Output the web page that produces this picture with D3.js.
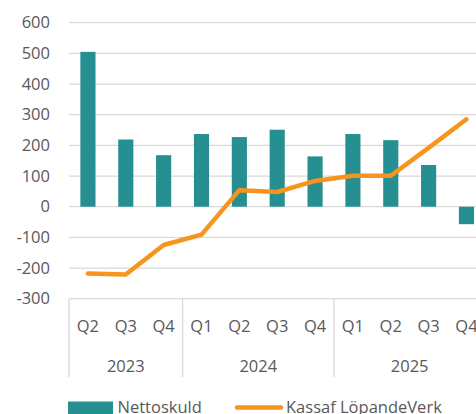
<!DOCTYPE html>
<html>
<head>
<meta charset="utf-8">
<script src="https://cdn.jsdelivr.net/npm/d3@7"></script>
<style>
  html, body { margin: 0; padding: 0; background: #fff; }
  svg { display: block; font-family: "Open Sans", "Noto Sans", sans-serif; }
</style>
</head>
<body>
<svg id="chart" width="476" height="414"></svg>
<script>
(function () {
  'use strict';

  var quarters = ['Q2', 'Q3', 'Q4', 'Q1', 'Q2', 'Q3', 'Q4', 'Q1', 'Q2', 'Q3', 'Q4'];
  var years = ['2023', '2023', '2023', '2024', '2024', '2024', '2024', '2025', '2025', '2025', '2025'];
  var nettoskuld = [505, 219, 168, 237, 227, 251, 164, 237, 217, 136, -57];
  var kassaflode = [-218, -221, -125, -91, 54, 48, 84, 101, 101, 192, 285];
  var yTicks = [-300, -200, -100, 0, 100, 200, 300, 400, 500, 600];
  var seriesNames = ['Nettoskuld', 'Kassaf LöpandeVerk'];

  var barColor = '#268F91';
  var lineColor = '#F7941D';
  var gridColor = '#D9D9D9';
  var textColor = '#595959';

  var svg = d3.select('#chart');
  var left = 69, right = 485.4, top = 22.7, bottom = 298.7;

  var keys = quarters.map(function (q, i) { return years[i] + '-' + q; });

  var x = d3.scaleBand().domain(keys).range([left, right]).paddingInner(0.6).paddingOuter(0.3);
  var y = d3.scaleLinear().domain([-300, 600]).range([bottom, top]);

  // gridlines
  svg.append('g')
    .selectAll('line')
    .data(yTicks)
    .enter()
    .append('line')
    .attr('x1', left)
    .attr('x2', 476)
    .attr('y1', function (d) { return y(d); })
    .attr('y2', function (d) { return y(d); })
    .attr('stroke', gridColor)
    .attr('stroke-width', 1.3);

  // y labels
  svg.append('g')
    .selectAll('text')
    .data(yTicks)
    .enter()
    .append('text')
    .attr('x', 50)
    .attr('y', function (d) { return y(d); })
    .attr('dy', '0.35em')
    .attr('text-anchor', 'end')
    .attr('fill', textColor)
    .attr('font-size', '16.5px')
    .text(function (d) { return d; });

  // bars
  svg.append('g')
    .selectAll('rect')
    .data(nettoskuld)
    .enter()
    .append('rect')
    .attr('x', function (d, i) { return x(keys[i]); })
    .attr('width', x.bandwidth())
    .attr('y', function (d) { return y(Math.max(0, d)); })
    .attr('height', function (d) { return Math.abs(y(d) - y(0)); })
    .attr('fill', barColor);

  // line
  var line = d3.line()
    .x(function (d, i) { return x(keys[i]) + x.bandwidth() / 2; })
    .y(function (d) { return y(d); });

  svg.append('path')
    .datum(kassaflode)
    .attr('d', line)
    .attr('fill', 'none')
    .attr('stroke', lineColor)
    .attr('stroke-width', 4.5)
    .attr('stroke-linejoin', 'round')
    .attr('stroke-linecap', 'round');

  // category axis
  var step = x.step();
  var groups = [];
  years.forEach(function (yr, i) {
    var g = groups[groups.length - 1];
    if (!g || g.year !== yr) groups.push({ year: yr, start: i, end: i });
    else g.end = i;
  });

  var sepX = groups.map(function (g) { return left + g.start * step; });
  sepX.push(left + years.length * step);

  svg.append('g')
    .selectAll('line')
    .data(sepX)
    .enter()
    .append('line')
    .attr('x1', function (d) { return d; })
    .attr('x2', function (d) { return d; })
    .attr('y1', bottom)
    .attr('y2', 377)
    .attr('stroke', gridColor)
    .attr('stroke-width', 1.3);

  svg.append('g')
    .selectAll('text')
    .data(quarters)
    .enter()
    .append('text')
    .attr('x', function (d, i) { return x(keys[i]) + x.bandwidth() / 2; })
    .attr('y', 326)
    .attr('dy', '0.35em')
    .attr('text-anchor', 'middle')
    .attr('fill', textColor)
    .attr('font-size', '16.5px')
    .text(function (d) { return d; });

  svg.append('g')
    .selectAll('text')
    .data(groups)
    .enter()
    .append('text')
    .attr('x', function (g) { return left + (g.start + g.end + 1) / 2 * step; })
    .attr('y', 366)
    .attr('dy', '0.35em')
    .attr('text-anchor', 'middle')
    .attr('fill', textColor)
    .attr('font-size', '16.5px')
    .text(function (g) { return g.year; });

  // legend
  var legend = svg.append('g');
  legend.append('rect')
    .attr('x', 68).attr('y', 401.5).attr('width', 45).attr('height', 14)
    .attr('fill', barColor);
  legend.append('text')
    .attr('x', 117.5).attr('y', 407).attr('dy', '0.35em')
    .attr('fill', textColor).attr('font-size', '16.5px')
    .text(seriesNames[0]);
  legend.append('line')
    .attr('x1', 237).attr('x2', 281).attr('y1', 407.5).attr('y2', 407.5)
    .attr('stroke', lineColor).attr('stroke-width', 4.5).attr('stroke-linecap', 'round');
  legend.append('text')
    .attr('x', 286).attr('y', 407).attr('dy', '0.35em')
    .attr('fill', textColor).attr('font-size', '16.5px')
    .text(seriesNames[1]);
})();
</script>
</body>
</html>
